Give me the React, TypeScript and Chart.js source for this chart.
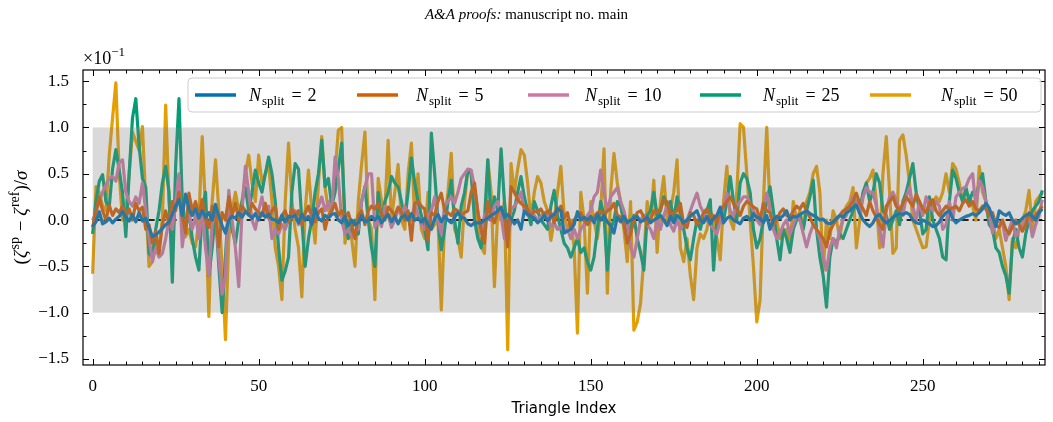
import React, { useEffect, useRef } from 'react';
import { Chart, registerables } from 'chart.js';

Chart.register(...registerables);

// Per-triangle normalised deviation (in units of 1e-1) for each number of splits.
const nSplit2 = [
  -0.07, -0.02, 0.09, -0.04, -0.02, 0.02, -0.03, 0.01, 0.04, 0.09,
  0.03, -0.01, 0.06, -0.02, 0.08, -0.01, 0.02, -0.08, -0.18, -0.16,
  -0.13, -0.09, -0.05, -0.02, 0.06, 0.15, 0.22, 0.05, 0.28, 0.12,
  0.05, 0.12, 0.02, 0.1, 0.03, 0.08, 0.0, 0.17, 0.04, -0.06,
  -0.14, 0.0, 0.04, 0.02, 0.08, 0.03, 0.09, 0.06, 0.02, 0.07,
  0.0, 0.08, 0.03, 0.06, 0.01, 0.0, -0.03, 0.05, -0.02, 0.04,
  0.03, 0.05, -0.03, 0.06, 0.0, 0.04, -0.05, 0.12, 0.02, -0.01,
  0.05, 0.02, 0.06, 0.07, 0.0, -0.03, 0.04, -0.06, 0.0, -0.05,
  -0.03, 0.05, -0.02, 0.0, 0.04, 0.0, 0.04, -0.03, 0.02, 0.06,
  -0.02, 0.04, -0.04, 0.03, 0.05, 0.0, 0.07, 0.0, 0.02, -0.02,
  0.02, -0.05, -0.1, 0.02, 0.06, -0.02, 0.04, 0.0, -0.03, 0.03,
  0.08, 0.03, 0.02, -0.04, -0.06, -0.03, -0.03, -0.03, 0.0, 0.02,
  0.05, 0.07, 0.1, 0.14, 0.03, 0.06, 0.02, -0.04, 0.0, -0.1,
  0.1, 0.06, 0.04, 0.02, -0.03, 0.0, 0.05, -0.01, 0.04, 0.06,
  0.12, 0.1, -0.14, -0.12, -0.1, -0.05, 0.09, 0.0, 0.03, 0.0,
  0.04, -0.03, 0.06, 0.0, 0.05, -0.02, -0.06, -0.14, 0.03, -0.02,
  0.04, -0.03, 0.0, 0.02, 0.04, -0.02, 0.0, 0.03, -0.03, 0.0,
  0.02, 0.05, 0.0, -0.06, 0.04, -0.03, 0.05, 0.02, -0.03, 0.0,
  0.04, 0.07, 0.1, 0.0, -0.03, 0.04, -0.04, 0.02, 0.05, 0.14,
  -0.03, 0.02, 0.04, 0.0, -0.02, -0.04, 0.02, 0.04, 0.0, 0.07,
  0.03, 0.02, -0.03, 0.05, -0.1, 0.0, 0.04, 0.02, 0.05, 0.1,
  0.0, 0.04, 0.03, 0.06, 0.08, 0.1, 0.07, 0.05, 0.03, 0.0,
  0.01, -0.03, -0.04, -0.02, 0.02, 0.05, 0.03, 0.08, 0.1, 0.14,
  0.16, 0.07, 0.0, -0.04, -0.07, -0.03, 0.04, 0.06, 0.0, -0.03,
  -0.01, 0.03, 0.05, 0.07, 0.06, 0.08, 0.06, 0.0, -0.03, -0.04,
  0.0, -0.02, -0.04, -0.07, -0.06, -0.02, 0.04, 0.08, 0.1, 0.02,
  -0.03, 0.0, 0.02, 0.04, 0.05, 0.07, 0.05, 0.08, 0.12, 0.18,
  0.13, 0.03, -0.07, 0.1, 0.07, 0.05, 0.08, 0.0, -0.04, -0.02,
  0.02, 0.05, 0.07, 0.04, 0.0, 0.08, 0.12,
];

const nSplit5 = [
  -0.08, 0.1, 0.25, 0.1, 0.0, 0.16, 0.05, 0.12, 0.08, 0.15,
  0.05, 0.12, 0.0, 0.18, 0.1, 0.14, -0.1, -0.05, -0.25, -0.12,
  -0.36, -0.05, 0.1, -0.05, 0.2, 0.1, 0.3, 0.05, -0.14, 0.29,
  0.1, 0.2, 0.05, 0.22, 0.0, -0.08, 0.15, 0.05, -0.29, 0.08,
  0.0, 0.25, 0.05, 0.18, 0.0, 0.15, 0.1, 0.05, 0.18, 0.12,
  0.08, 0.05, 0.18, 0.02, 0.1, 0.15, -0.1, 0.05, 0.1, -0.02,
  0.12, 0.05, 0.1, -0.05, 0.08, 0.15, 0.05, -0.02, 0.08, 0.12,
  -0.1, 0.05, 0.1, 0.18, 0.05, 0.1, 0.02, 0.08, -0.05, -0.2,
  0.05, 0.1, -0.05, 0.1, 0.15, 0.12, 0.18, 0.07, 0.0, 0.14,
  0.1, 0.05, 0.14, 0.08, 0.0, 0.1, -0.22, 0.18, 0.2, 0.15,
  0.12, -0.22, 0.08, 0.05, 0.2, 0.29, 0.1, 0.08, 0.05, 0.12,
  0.1, 0.05, 0.08, 0.1, 0.3, 0.4, 0.08, -0.1, -0.25, 0.2,
  0.05, -0.03, 0.1, 0.12, 0.05, -0.29, 0.36, 0.3, 0.22, 0.18,
  0.15, 0.12, 0.05, 0.1, 0.08, 0.12, 0.05, 0.1, 0.08, -0.03,
  0.1, 0.15, 0.02, 0.08, -0.1, 0.0, 0.05, 0.08, 0.0, -0.05,
  0.0, 0.03, 0.08, 0.1, 0.05, 0.1, 0.12, 0.18, 0.05, 0.03,
  -0.05, -0.25, -0.15, 0.0, 0.08, 0.1, 0.03, -0.05, 0.0, 0.1,
  0.08, 0.12, 0.22, 0.2, 0.05, 0.08, 0.1, 0.18, -0.05, -0.08,
  0.08, 0.05, -0.05, 0.0, 0.08, 0.12, 0.03, 0.05, -0.03, 0.1,
  0.15, 0.2, 0.25, 0.18, 0.12, 0.05, 0.15, 0.2, 0.18, 0.14,
  0.12, 0.0, 0.18, 0.1, 0.08, -0.05, 0.0, 0.08, 0.12, 0.05,
  0.03, 0.1, 0.15, 0.12, 0.18, 0.1, 0.03, -0.05, -0.1, -0.15,
  -0.2, -0.29, -0.12, -0.05, 0.0, 0.05, 0.1, 0.12, 0.15, 0.2,
  0.29, 0.18, 0.12, 0.05, 0.2, 0.1, 0.03, -0.05, -0.1, 0.15,
  0.2, 0.25, 0.15, 0.1, 0.18, 0.25, 0.2, 0.15, 0.28, 0.2,
  0.12, 0.08, 0.18, 0.22, 0.1, 0.05, 0.1, 0.15, 0.12, 0.13,
  0.15, 0.1, 0.18, 0.22, 0.15, 0.2, 0.12, 0.1, 0.15, 0.12,
  0.05, 0.08, -0.05, -0.08, 0.0, -0.1, -0.15, -0.07, 0.0, -0.05,
  -0.12, -0.05, 0.08, 0.0, 0.05, 0.1, 0.15,
];

const nSplit10 = [
  0.0, 0.08, 0.2, 0.3, 0.38, 0.45, 0.47, 0.42, 0.62, 0.65,
  0.3, 0.2, 0.15, 0.25, 0.18, 0.4, 0.1, -0.2, -0.45, -0.3,
  -0.4, -0.36, -0.2, 0.0, -0.1, 0.2, 0.5, -0.29, 0.0, 0.05,
  -0.1, 0.05, -0.2, 0.1, -0.3, -0.6, -0.05, 0.1, -0.4, -0.8,
  -0.6, 0.32, 0.0, -0.3, -0.72, 0.1, 0.58, 0.3, 0.0, -0.1,
  0.1, 0.25, 0.05, 0.15, -0.2, -0.1, -0.15, -0.05, -0.1, 0.0,
  0.05, 0.1, -0.05, 0.0, 0.08, 0.12, 0.05, 0.1, 0.15, 0.25,
  0.1, 0.2, 0.08, 0.68, 0.45, 0.0, -0.15, -0.1, -0.18, -0.12,
  -0.1, 0.2, 0.35, 0.5, 0.5, -0.08, 0.0, -0.07, 0.15, 0.05,
  -0.08, 0.0, 0.12, 0.05, 0.15, 0.06, 0.0, 0.18, 0.05, -0.05,
  -0.1, 0.05, 0.1, 0.25, 0.0, -0.15, 0.15, 0.2, 0.25, 0.18,
  0.3, 0.45, 0.5, 0.55, 0.54, 0.35, 0.1, -0.15, 0.05, 0.1,
  0.0, 0.15, 0.2, 0.05, -0.2, -0.22, 0.12, 0.15, 0.2, 0.3,
  0.1, 0.05, 0.1, 0.05, 0.0, 0.03, 0.08, 0.05, -0.07, -0.03,
  -0.1, -0.08, -0.12, -0.1, -0.2, -0.1, -0.2, -0.1, -0.05, 0.05,
  0.1, 0.25, 0.3, 0.54, 0.3, 0.1, 0.25, 0.3, 0.35, 0.2,
  0.1, -0.05, -0.3, -0.4, -0.2, 0.0, 0.05, -0.05, -0.1, -0.2,
  0.0, -0.1, 0.05, 0.15, -0.05, -0.12, 0.0, -0.1, -0.05, 0.0,
  0.1, 0.2, 0.29, 0.15, 0.08, 0.0, -0.05, -0.1, -0.15, 0.0,
  0.15, 0.29, 0.1, 0.05, 0.15, 0.2, 0.25, 0.25, 0.18, 0.1,
  0.0, -0.05, 0.15, 0.29, 0.1, -0.1, -0.2, -0.15, -0.05, 0.0,
  -0.15, -0.05, 0.05, 0.0, -0.15, -0.29, -0.15, -0.05, -0.1, -0.2,
  -0.4, -0.54, -0.3, -0.2, -0.3, -0.1, 0.0, 0.05, 0.15, 0.25,
  0.2, 0.1, 0.25, 0.35, 0.3, 0.3, 0.15, -0.1, -0.29, 0.1,
  0.25, 0.3, 0.22, 0.1, 0.05, 0.25, 0.35, 0.15, 0.0, 0.2,
  0.05, 0.25, 0.15, 0.1, 0.2, 0.15, -0.1, -0.05, 0.2, 0.0,
  0.25, 0.3, 0.34, 0.36, 0.45, 0.5, 0.14, 0.43, 0.36, 0.2,
  0.07, -0.14, 0.0, -0.02, -0.04, -0.22, -0.1, 0.0, -0.18, -0.1,
  -0.07, 0.0, 0.04, -0.18, -0.05, 0.05, 0.22,
];

const nSplit25 = [
  -0.15, 0.2, 0.42, 0.49, 0.2, 0.14, 0.55, 0.76, 0.54, 0.3,
  -0.18, 0.5, 1.1, 1.31, 0.8, 0.45, 0.35, -0.36, -0.4, -0.1,
  0.1, 0.4, 0.58, 0.3, -0.67, 0.58, 1.31, 0.2, -0.1, 0.1,
  -0.2, -0.4, -0.54, 0.1, 0.3, -0.6, -0.3, 0.1, -0.5, -1.0,
  -0.4, 0.2, -0.1, -0.25, 0.0, 0.2, 0.35, 0.1, 0.3, 0.54,
  0.4, 0.3, 0.5, 0.68, 0.5, 0.2, -0.3, -0.65, -0.55, -0.4,
  0.3, 0.61, 0.55, 0.0, -0.5, -0.2, 0.0, 0.3, 0.5, 0.86,
  0.36, 0.45, 0.15, 0.3, 0.55, 0.83, 0.0, -0.2, -0.1, 0.0,
  -0.15, 0.2, 0.36, 0.0, -0.3, -0.5, 0.3, 0.0, 0.2, 0.3,
  0.47, 0.4, 0.36, 0.2, 0.0, 0.3, 0.67, 0.4, 0.2, 0.05,
  -0.1, -0.32, 0.94, 0.5, 0.0, -0.32, -0.1, 0.2, 0.43, 0.0,
  -0.25, 0.15, 0.3, 0.54, 0.5, 0.0, -0.2, -0.3, 0.0, 0.65,
  0.0, 0.25, 0.1, 0.77, 0.2, -0.15, 0.0, 0.1, 0.3, 0.47,
  0.25, 0.1, -0.05, 0.2, 0.1, 0.0, -0.05, -0.1, 0.15, 0.32,
  0.05, -0.1, -0.25, -0.3, -0.4, -0.3, -0.2, -0.35, -0.3, -0.45,
  -0.54, -0.4, -0.1, 0.2, 0.05, -0.54, -0.1, 0.0, 0.2, 0.15,
  0.0, -0.2, -0.1, 0.05, -0.2, -0.35, -0.54, 0.05, 0.1, 0.3,
  0.05, 0.1, 0.25, 0.15, 0.2, 0.0, 0.25, 0.1, -0.1, -0.3,
  -0.43, -0.2, 0.0, -0.1, 0.05, 0.1, 0.22, -0.54, 0.0, 0.1,
  0.0, 0.2, 0.47, 0.2, 0.0, 0.4, 0.5, 0.45, 0.3, -0.1,
  -0.3, -0.2, 0.0, 0.2, 0.36, 0.1, -0.2, -0.43, -0.1, -0.2,
  -0.35, -0.1, 0.0, 0.05, -0.1, 0.1, 0.25, 0.43, -0.1, -0.4,
  -0.6, -0.94, -0.4, -0.2, -0.25, -0.15, -0.2, -0.1, 0.0, 0.1,
  0.2, 0.1, 0.3, 0.4, 0.2, 0.3, 0.5, 0.4, 0.1, 0.05,
  -0.1, 0.0, 0.1, -0.05, 0.2, 0.3, 0.45, 0.61, 0.3, 0.1,
  -0.15, -0.1, 0.25, 0.0, -0.1, -0.2, -0.4, -0.43, 0.2, 0.54,
  0.45, 0.3, 0.2, 0.35, 0.2, 0.3, 0.25, 0.4, 0.5, 0.2,
  -0.05, -0.1, -0.3, -0.35, -0.5, -0.6, -0.79, -0.25, -0.1, -0.3,
  -0.4, -0.15, 0.0, 0.1, 0.15, 0.2, 0.32,
];

const nSplit50 = [
  -0.58, 0.36, 0.3, 0.15, 0.1, 0.7, 1.1, 1.48, 0.5, 0.0,
  0.1, 0.5, 0.95, 0.85, 0.75, 1.01, 0.2, -0.5, -0.45, -0.2,
  -0.3, 0.0, 1.24, 0.2, -0.3, 0.3, 0.4, -0.1, -0.18, -0.1,
  -0.25, -0.29, 0.0, 0.9, 0.1, -1.04, 0.2, 0.65, 0.1, -0.5,
  -1.29, -0.2, 0.1, 0.3, 0.1, 0.2, 0.5, 0.7, 0.4, 0.2,
  0.7, 0.4, 0.5, 0.6, 0.2, -0.3, -0.5, -0.86, 0.2, 0.83,
  0.2, -0.1, -0.3, -0.83, 0.1, 0.54, 0.1, -0.25, 0.4, 0.9,
  0.35, 0.1, 0.15, 0.5, 0.97, 1.0, -0.25, 0.0, -0.2, -0.5,
  0.2, 0.6, 0.95, 0.0, -0.1, -0.86, 0.45, 0.2, 0.1, 0.86,
  0.0, 0.3, 0.6, 0.0, -0.1, 0.5, 0.83, 0.0, 0.5, -0.1,
  -0.2, 0.3, -0.1, -0.05, 0.0, -0.97, 0.0, 0.3, 0.72, -0.1,
  -0.2, -0.4, 0.2, 0.54, 0.5, 0.2, -0.1, -0.29, -0.36, 0.65,
  0.3, -0.72, 0.1, 0.0, 0.2, -1.4, 0.61, 0.3, 0.55, 0.76,
  0.7, 0.4, 0.0, 0.3, 0.47, 0.4, 0.2, 0.1, -0.22, 0.0,
  0.3, 0.58, 0.05, -0.1, 0.0, -0.3, -1.22, 0.3, 0.0, -0.79,
  0.2, 0.0, -0.2, 0.1, 0.77, -0.79, 0.3, 0.72, 0.4, 0.2,
  -0.1, -0.45, 0.2, -1.19, -1.1, -0.9, -0.4, 0.2, 0.0, 0.43,
  -0.35, 0.2, 0.47, 0.0, 0.1, 0.3, 0.65, -0.3, -0.45, -0.2,
  -0.6, -0.86, -0.3, -0.15, -0.2, -0.1, 0.1, 0.0, -0.2, -0.43,
  0.2, 0.58, 0.0, -0.1, 0.3, 1.04, 1.0, 0.5, 0.0, -0.5,
  -1.1, -0.86, 0.2, 1.0, 0.1, -0.1, 0.0, -0.2, -0.15, -0.1,
  -0.3, 0.2, 0.0, 0.1, -0.1, 0.2, 0.3, 0.5, 0.58, 0.3,
  -0.55, 0.0, -0.2, 0.1, 0.0, -0.2, 0.05, 0.15, 0.2, 0.35,
  -0.3, 0.0, 0.25, 0.4, 0.45, 0.54, 0.2, -0.3, 0.5, 0.9,
  0.3, -0.36, -0.3, 0.86, 0.92, 0.7, 0.4, 0.0, -0.1, -0.2,
  -0.3, -0.29, 0.0, 0.15, 0.25, 0.2, 0.3, 0.5, 0.3, 0.61,
  0.55, 0.4, 0.2, 0.3, 0.25, 0.15, 0.0, 0.58, 0.3, 0.2,
  0.1, 0.0, -0.2, -0.1, -0.3, -0.5, -0.86, -0.2, -0.3, -0.1,
  0.0, 0.1, 0.32, -0.1, 0.2, 0.25, 0.3,
];

const seriesValues = [nSplit2, nSplit5, nSplit10, nSplit25, nSplit50];
const splitCounts = ['2', '5', '10', '25', '50'];
const seriesColors = ['0, 114, 178', '213, 94, 0', '204, 121, 167', '0, 158, 115', '230, 159, 0'];

const xTicks = [0, 50, 100, 150, 200, 250];
const yTicks = [-1.5, -1.0, -0.5, 0.0, 0.5, 1.0, 1.5];
const xMinorStep = 5;
const yMinorStep = 0.25;
const bandHalfWidth = 1.0;

const titleItalic = 'A&A proofs:';
const titleRest = ' manuscript no. main';
const xTitle = 'Triangle Index';

const SERIF = '"Liberation Serif", "DejaVu Serif", serif';
const SANS = '"DejaVu Sans", sans-serif';

type Run = { text: string; font: string; dy?: number; gap?: number };

function runsWidth(ctx: CanvasRenderingContext2D, runs: Run[]) {
  let w = 0;
  for (const r of runs) {
    ctx.font = r.font;
    w += ctx.measureText(r.text).width + (r.gap || 0);
  }
  return w;
}

function drawRuns(ctx: CanvasRenderingContext2D, runs: Run[], x: number, y: number) {
  let cx = x;
  for (const r of runs) {
    ctx.font = r.font;
    ctx.fillText(r.text, cx, y + (r.dy || 0));
    cx += ctx.measureText(r.text).width + (r.gap || 0);
  }
  return cx;
}

function clipToArea(ctx: CanvasRenderingContext2D, a: any) {
  ctx.beginPath();
  ctx.rect(a.left, a.top, a.right - a.left, a.bottom - a.top);
  ctx.clip();
}

// dashed zero reference, underneath the curves
const zeroLinePlugin = {
  id: 'zeroLine',
  beforeDatasetsDraw(chart: any) {
    const { ctx, chartArea, scales } = chart;
    const xs = scales.x;
    const ys = scales.y;
    const lastIndex = seriesValues[0].length - 1;
    ctx.save();
    clipToArea(ctx, chartArea);
    const y0 = ys.getPixelForValue(0);
    ctx.strokeStyle = '#000';
    ctx.lineWidth = 2;
    ctx.setLineDash([7, 4]);
    ctx.beginPath();
    ctx.moveTo(xs.getPixelForValue(0), y0);
    ctx.lineTo(xs.getPixelForValue(lastIndex), y0);
    ctx.stroke();
    ctx.restore();
  },
};

// translucent ±1 band, laid over the curves
const bandPlugin = {
  id: 'band',
  afterDatasetsDraw(chart: any) {
    const { ctx, chartArea, scales } = chart;
    const xs = scales.x;
    const ys = scales.y;
    const lastIndex = seriesValues[0].length - 1;
    ctx.save();
    clipToArea(ctx, chartArea);
    const x0 = xs.getPixelForValue(0);
    const x1 = xs.getPixelForValue(lastIndex);
    const yt = ys.getPixelForValue(bandHalfWidth);
    const yb = ys.getPixelForValue(-bandHalfWidth);
    ctx.fillStyle = 'rgba(128, 128, 128, 0.3)';
    ctx.fillRect(x0, yt, x1 - x0, yb - yt);
    ctx.restore();
  },
};

const framePlugin = {
  id: 'frameAndText',
  afterDraw(chart: any) {
    const { ctx, chartArea, scales } = chart;
    const xs = scales.x;
    const ys = scales.y;
    const { left, right, top, bottom } = chartArea;
    ctx.save();
    ctx.strokeStyle = '#000';
    ctx.lineWidth = 1;
    ctx.setLineDash([]);

    // inward ticks on all four sides
    const majorLen = 6;
    const minorLen = 3.5;
    ctx.beginPath();
    for (let v = Math.ceil(xs.min / xMinorStep) * xMinorStep; v <= xs.max; v += xMinorStep) {
      const px = Math.round(xs.getPixelForValue(v)) + 0.5;
      const len = xTicks.includes(v) ? majorLen : minorLen;
      ctx.moveTo(px, bottom);
      ctx.lineTo(px, bottom - len);
      ctx.moveTo(px, top);
      ctx.lineTo(px, top + len);
    }
    for (let k = Math.ceil(ys.min / yMinorStep); k * yMinorStep <= ys.max; k++) {
      const v = k * yMinorStep;
      const py = Math.round(ys.getPixelForValue(v)) + 0.5;
      const len = k % 2 === 0 ? majorLen : minorLen;
      ctx.moveTo(left, py);
      ctx.lineTo(left + len, py);
      ctx.moveTo(right, py);
      ctx.lineTo(right - len, py);
    }
    ctx.stroke();

    ctx.lineWidth = 1.2;
    ctx.strokeRect(left, top, right - left, bottom - top);

    ctx.fillStyle = '#000';
    ctx.textBaseline = 'alphabetic';
    ctx.textAlign = 'left';

    // title, centred on the page
    const titleRuns: Run[] = [
      { text: titleItalic, font: `italic 15px ${SERIF}` },
      { text: titleRest, font: `15px ${SERIF}` },
    ];
    const tw = runsWidth(ctx, titleRuns);
    drawRuns(ctx, titleRuns, chart.width / 2 - tw / 2, 19);

    // offset multiplier above the y axis
    drawRuns(ctx, [
      { text: '×10', font: `18px ${SERIF}` },
      { text: '−1', font: `13px ${SERIF}`, dy: -8 },
    ], left, 64);

    // x axis title
    ctx.font = `15px ${SANS}`;
    ctx.textAlign = 'center';
    ctx.fillText(xTitle, (left + right) / 2, 413);
    ctx.textAlign = 'left';

    // y axis title
    const yRuns: Run[] = [
      { text: '(', font: `19px ${SERIF}` },
      { text: 'ζ', font: `italic 19px ${SERIF}`, gap: 1 },
      { text: 'sp', font: `14px ${SERIF}`, dy: -8, gap: 1 },
      { text: ' − ', font: `19px ${SERIF}` },
      { text: 'ζ', font: `italic 19px ${SERIF}`, gap: 1 },
      { text: 'ref', font: `14px ${SERIF}`, dy: -8 },
      { text: ')/', font: `19px ${SERIF}` },
      { text: 'σ', font: `italic 19px ${SERIF}` },
    ];
    const yw = runsWidth(ctx, yRuns);
    ctx.save();
    ctx.translate(27, (top + bottom) / 2);
    ctx.rotate(-Math.PI / 2);
    drawRuns(ctx, yRuns, -yw / 2, 0);
    ctx.restore();

    // legend
    const lx = 188;
    const ly = 78;
    const lw = 853;
    const lh = 34;
    ctx.beginPath();
    ctx.roundRect(lx, ly, lw, lh, 4);
    ctx.fillStyle = 'rgba(255,255,255,0.85)';
    ctx.fill();
    ctx.strokeStyle = '#cccccc';
    ctx.lineWidth = 1;
    ctx.stroke();
    const handleX = [195, 357, 528, 700, 870];
    const textX = [249, 416, 585, 763, 941];
    const cy = ly + lh / 2;
    splitCounts.forEach((n, i) => {
      ctx.strokeStyle = `rgb(${seriesColors[i]})`;
      ctx.lineWidth = 3.5;
      ctx.beginPath();
      ctx.moveTo(handleX[i], cy);
      ctx.lineTo(handleX[i] + 41, cy);
      ctx.stroke();
      ctx.fillStyle = '#000';
      drawRuns(ctx, [
        { text: 'N', font: `italic 18px ${SERIF}`, gap: 1 },
        { text: 'split', font: `13px ${SERIF}`, dy: 4, gap: 7 },
        { text: '=', font: `18px ${SERIF}`, gap: 6 },
        { text: n, font: `18px ${SERIF}` },
      ], textX[i], cy + 6);
    });
    ctx.restore();
  },
};

export default function App() {
  const canvasRef = useRef<HTMLCanvasElement | null>(null);

  useEffect(() => {
    const canvas = canvasRef.current;
    if (!canvas) return;
    const datasets = seriesValues.map((vals, i) => ({
      label: `N_split = ${splitCounts[i]}`,
      data: vals.map((v, idx) => ({ x: idx, y: v })),
      borderColor: `rgb(${seriesColors[i]})`,
      backgroundColor: `rgb(${seriesColors[i]})`,
      borderWidth: 3.2,
      pointRadius: 0,
      tension: 0,
      borderJoinStyle: 'round' as const,
      fill: false,
      clip: 0,
    }));

    const chart = new Chart(canvas, {
      type: 'line',
      data: { datasets },
      options: {
        animation: false,
        responsive: false,
        devicePixelRatio: 1,
        layout: { padding: { left: 0, right: 8, top: 70, bottom: 0 } },
        plugins: {
          legend: { display: false },
          tooltip: { enabled: false },
          title: { display: false },
        },
        scales: {
          x: {
            type: 'linear',
            min: -2.9,
            max: 286.8,
            grid: { display: false, drawTicks: false },
            border: { display: false },
            afterBuildTicks: (scale: any) => {
              scale.ticks = xTicks.map((v) => ({ value: v }));
            },
            afterFit: (scale: any) => {
              scale.height = 57;
            },
            ticks: {
              padding: 11,
              color: '#000',
              font: { family: SERIF, size: 17 },
              maxRotation: 0,
              callback: (v: any) => String(v),
            },
          },
          y: {
            type: 'linear',
            min: -1.565,
            max: 1.62,
            grid: { display: false, drawTicks: false },
            border: { display: false },
            afterBuildTicks: (scale: any) => {
              scale.ticks = yTicks.map((v) => ({ value: v }));
            },
            afterFit: (scale: any) => {
              scale.width = 83;
            },
            ticks: {
              padding: 14,
              color: '#000',
              font: { family: SERIF, size: 17 },
              callback: (v: any) => Number(v).toFixed(1).replace('-', '−'),
            },
          },
        },
      },
      plugins: [zeroLinePlugin, bandPlugin, framePlugin],
    });
    return () => chart.destroy();
  }, []);

  return (
    <div style={{ position: 'absolute', left: 0, top: 0, width: 1053, height: 422, background: '#fff' }}>
      <canvas ref={canvasRef} width={1053} height={422} />
    </div>
  );
}
